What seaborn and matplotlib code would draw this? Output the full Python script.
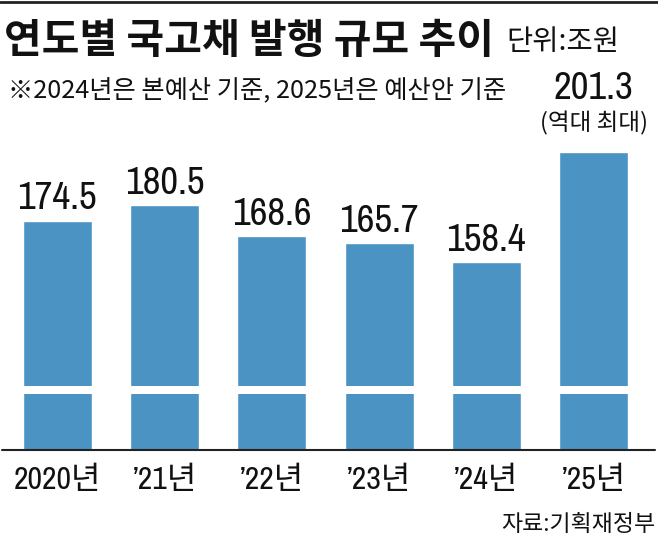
import matplotlib
matplotlib.use("Agg")
import matplotlib.pyplot as plt
import seaborn as sns
from matplotlib.lines import Line2D
from matplotlib import font_manager as fm

# ---- data ----
years = ["2020년", "’21년", "’22년", "’23년", "’24년", "’25년"]
values = [174.5, 180.5, 168.6, 165.7, 158.4, 201.3]
value_labels = ["174.5", "180.5", "168.6", "165.7", "158.4", "201.3"]
title = "연도별 국고채 발행 규모 추이"
unit = "단위:조원"
note = "※2024년은 본예산 기준, 2025년은 예산안 기준"
record_note = "(역대 최대)"
source = "자료:기획재정부"

BAR = "#4a93c3"
W, H = 658, 541

sns.set_theme(style="white")

# look for a narrow/condensed latin face for the numbers
NARROW = None
NARROW_STRETCH = "normal"
for f in fm.fontManager.ttflist:
    if "Narrow" in f.name or "Condensed" in f.name:
        NARROW = f.name
        break
if NARROW is None:
    for f in fm.fontManager.ttflist:
        if f.stretch in ("condensed", "semi-condensed", "extra-condensed") or \
           (isinstance(f.stretch, int) and f.stretch < 500):
            NARROW = f.name
            NARROW_STRETCH = f.stretch
            break
if NARROW is None:
    NARROW = "Liberation Sans"

NUM = [NARROW, "Noto Sans CJK KR", "DejaVu Sans"]
KR = ["Noto Sans CJK KR", "DejaVu Sans"]
plt.rcParams["font.family"] = NUM
plt.rcParams["font.stretch"] = NARROW_STRETCH if isinstance(NARROW_STRETCH, (int, str)) else "normal"

fig = plt.figure(figsize=(W / 100, H / 100), dpi=100)

def fx(x):
    return x / W

def fy(y):
    return 1 - y / H

ax = fig.add_axes([fx(3.6), fy(450), fx(643.6), (450 - 100) / H])
sns.barplot(x=years, y=values, color=BAR, saturation=1, width=0.643, ax=ax)
ax.set_xlim(-0.5, 5.5)
ax.set_ylim(84.56, 84.56 + 350 / 2.55)
for s in ax.spines.values():
    s.set_visible(False)
ax.set_yticks([])
ax.set_xlabel("")
ax.set_ylabel("")
ax.tick_params(axis="x", length=0, pad=11, labelsize=23, labelcolor="#111111")

ax.axhspan(106.4, 109.8, color="white", zorder=5, lw=0)

num_size = 28 if NARROW != "Liberation Sans" else 26
for i, (v, lab) in enumerate(zip(values, value_labels)):
    if i == len(values) - 1:
        ax.annotate(record_note, (i, v), xytext=(0, 12), textcoords="offset points",
                    ha="center", va="bottom", fontsize=17, family=KR, color="#111111")
        ax.annotate(lab, (i, v), xytext=(0, 33), textcoords="offset points",
                    ha="center", va="bottom", fontsize=num_size, color="#111111")
    else:
        ax.annotate(lab, (i, v), xytext=(0, 3), textcoords="offset points",
                    ha="center", va="bottom", fontsize=num_size, color="#111111")

fig.add_artist(Line2D([fx(2), fx(655)], [fy(450), fy(450)], color="#222222", lw=1.5))
fig.add_artist(Line2D([fx(0), fx(658)], [fy(2), fy(2)], color="#222222", lw=2))

fig.text(fx(4), fy(53), title, fontsize=29.5, fontweight="bold", family=KR,
         ha="left", va="baseline", color="#111111")
fig.text(fx(506), fy(50), unit, fontsize=20.5, family=KR, ha="left", va="baseline", color="#111111")
fig.text(fx(8), fy(98), note, fontsize=18.2, family=KR, ha="left", va="baseline", color="#111111")
fig.text(fx(655), fy(531), source, fontsize=16.5, family=KR, ha="right", va="baseline", color="#111111")

fig.savefig("out.png", dpi=100, facecolor="white")
